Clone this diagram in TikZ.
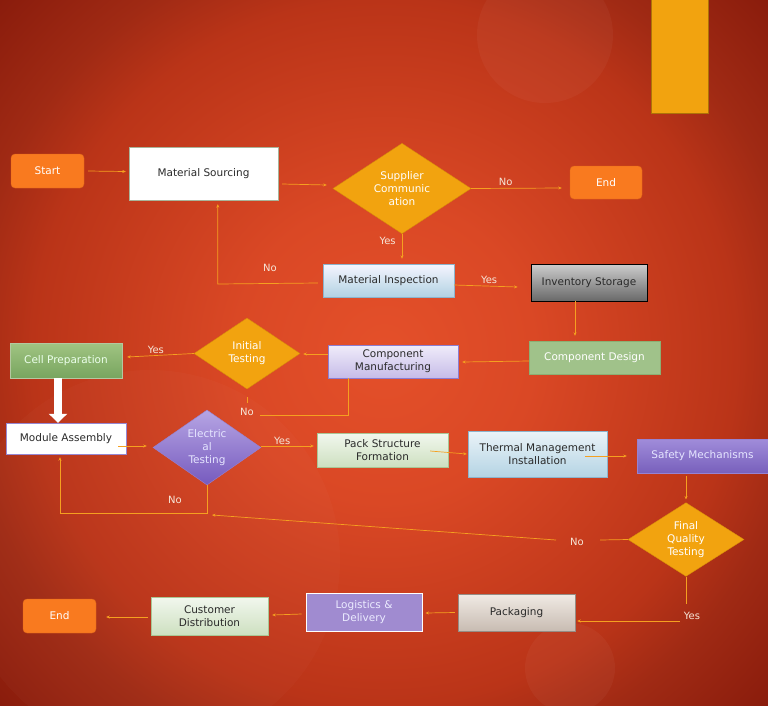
\documentclass[tikz,border=0pt]{standalone}
\usepackage{fontspec}
\setmainfont{DejaVu Sans}
\usetikzlibrary{shapes.geometric,arrows.meta,calc}
\definecolor{bg0}{HTML}{E4502A}
\definecolor{bg1}{HTML}{DA4825}
\definecolor{bg2}{HTML}{BA3418}
\definecolor{bg3}{HTML}{A02A14}
\definecolor{bg4}{HTML}{8A1C0C}
\pgfdeclareradialshading{bgshade}{\pgfpoint{0bp}{0bp}}{color(0bp)=(bg0); color(7.2bp)=(bg1); color(16.9bp)=(bg2); color(20.2bp)=(bg3); color(25bp)=(bg4); color(50bp)=(bg4)}
\definecolor{orng}{HTML}{F97A1F}
\definecolor{orngb}{HTML}{E0681A}
\definecolor{gold}{HTML}{F2A30F}
\definecolor{goldb}{HTML}{D88E0A}
\definecolor{lnk}{HTML}{F5A020}
\definecolor{dtxt}{HTML}{2A2A2A}
\definecolor{lbl}{HTML}{F6E6D8}
\definecolor{msb}{HTML}{A8B49A}
\tikzset{
  every node/.style={font=\fontsize{10.5}{13}\selectfont, align=center, inner sep=1pt},
  term/.style={rectangle, rounded corners=4pt, fill=orng, draw=orngb, text=white, minimum width=73pt, minimum height=34pt},
  dec/.style={diamond, fill=gold, draw=goldb, text=white, inner sep=0pt},
  proc/.style={rectangle, minimum height=33pt, text=dtxt},
  link/.style={draw=lnk, line width=0.7pt, -{Stealth[length=3.5pt,width=3pt]}},
  plain/.style={draw=lnk, line width=0.7pt},
  yn/.style={text=lbl, font=\fontsize{10}{12}\selectfont}
}
\begin{document}
\begin{tikzpicture}[x=1pt,y=-1pt]
\useasboundingbox (0,0) rectangle (768,705);
\begin{scope}
\clip (0,0) rectangle (768,705);
\shade[shading=bgshade] (-137,-169) rectangle (905,873);
\fill[white, opacity=0.035] (545,35) circle (68);
\fill[white, opacity=0.02] (150,560) circle (190);
\fill[white, opacity=0.035] (570,668) circle (45);
\end{scope}
\fill[gold, draw=goldb!80!black] (651,-2) rectangle (708,113);

% nodes
\node[term] (start) at (47.5,171) {Start};
\node[proc, fill=white, draw=msb, minimum width=149pt, minimum height=53pt] (ms) at (203.5,173.5) {Material Sourcing};
\node[dec, minimum width=138pt, minimum height=87pt] (sc) at (402,188.5) {Supplier\\Communic\\ation};
\node[term, minimum width=72pt, minimum height=33pt] (end1) at (606,182.5) {End};
\node[proc, top color=blue!4!white, bottom color={rgb,255:red,178;green,210;blue,226}, draw={rgb,255:red,140;green,180;blue,205}, minimum width=131pt] (mi) at (388.5,280.5) {Material Inspection};
\node[proc, top color={rgb,255:red,205;green,205;blue,205}, bottom color={rgb,255:red,105;green,105;blue,105}, draw=black, line width=0.8pt, minimum width=116pt, minimum height=37pt] (is) at (589,282.5) {Inventory Storage};
\node[proc, fill={rgb,255:red,160;green,194;blue,138}, draw={rgb,255:red,140;green,175;blue,115}, text=white, minimum width=131pt] (cd) at (594.5,357.5) {Component Design};
\node[proc, top color={rgb,255:red,240;green,236;blue,250}, bottom color={rgb,255:red,198;green,188;blue,232}, draw={rgb,255:red,140;green,125;blue,210}, minimum width=130pt] (cm) at (393,361.5) {Component\\Manufacturing};
\node[dec, minimum width=106pt, minimum height=71pt] (it) at (247,353.5) {Initial\\Testing};
\node[proc, top color={rgb,255:red,160;green,196;blue,130}, bottom color={rgb,255:red,120;green,165;blue,95}, draw={rgb,255:red,180;green,200;blue,160}, text=white!92!green, minimum width=112pt, minimum height=35pt] (cp) at (66,360.5) {Cell Preparation};
\node[proc, fill=white, draw={rgb,255:red,150;green,135;blue,210}, minimum width=120pt, minimum height=31pt] (ma) at (66,438.5) {Module Assembly};
\node[diamond, inner sep=0pt, top color={rgb,255:red,182;green,165;blue,228}, bottom color={rgb,255:red,118;green,90;blue,190}, draw={rgb,255:red,150;green,130;blue,210}, text=white!90!blue, minimum width=108pt, minimum height=73pt] (et) at (207,447.5) {Electric\\al\\Testing};
\node[proc, top color={rgb,255:red,242;green,247;blue,238}, bottom color={rgb,255:red,205;green,224;blue,192}, draw={rgb,255:red,170;green,198;blue,148}, minimum width=131pt, minimum height=34pt] (ps) at (382.5,450) {Pack Structure\\Formation};
\node[proc, top color={rgb,255:red,235;green,243;blue,248}, bottom color={rgb,255:red,180;green,212;blue,228}, draw={rgb,255:red,140;green,180;blue,205}, minimum width=139pt, minimum height=46pt] (tm) at (537.5,454) {Thermal Management\\Installation};
\node[proc, top color={rgb,255:red,160;green,140;blue,218}, bottom color={rgb,255:red,120;green,96;blue,188}, draw={rgb,255:red,150;green,130;blue,210}, text=white!90!blue, minimum width=131pt, minimum height=34pt] (sm) at (702.5,456) {Safety Mechanisms};
\node[dec, minimum width=116pt, minimum height=73pt] (fq) at (686,539.5) {Final\\Quality\\Testing};
\node[proc, top color={rgb,255:red,240;green,234;blue,228}, bottom color={rgb,255:red,200;green,188;blue,178}, draw={rgb,255:red,150;green,140;blue,132}, minimum width=117pt, minimum height=37pt] (pk) at (516.5,612.5) {Packaging};
\node[proc, fill={rgb,255:red,160;green,139;blue,208}, draw=white, line width=0.9pt, text=white!92!blue, minimum width=116pt, minimum height=38pt] (ld) at (364,612) {Logistics \&\\Delivery};
\node[proc, top color={rgb,255:red,242;green,247;blue,238}, bottom color={rgb,255:red,205;green,224;blue,192}, draw={rgb,255:red,170;green,198;blue,148}, minimum width=117pt, minimum height=38pt] (cdist) at (209.5,616) {Customer\\Distribution};
\node[term] (end2) at (59.5,616) {End};

% connectors
\draw[link] ($(start.east)+(4,0)$) -- ($(ms.west)+(-3,-2)$);
\draw[link] ($(ms.east)+(4,10.5)$) -- ($(sc.west)+(-6,-3.5)$);
\draw[link] (sc.east) -- ($(end1.west)+(-8,5.5)$) node[yn, pos=0.38, above=1pt] {No};
\draw[link] (sc.south) -- ($(mi.north)+(13.5,-5)$) node[yn, pos=0.3, left=5pt] {Yes};
\draw[link] ($(mi.west)+(-5,2.5)$) -- ++(-100,1) coordinate (c1) -- ($(c1 |- ms.south)+(0,4)$);
\node[yn] (no1) at (270,268) {No};
\draw[link] ($(mi.east)+(0,4.5)$) -- ($(is.west)+(-13,4.5)$) node[yn, pos=0.55, above=1pt] {Yes};
\draw[link] ($(is.south)+(-14,0)$) -- ($(cd.north)+(-19.5,-5)$);
\draw[link] ($(cd.west)+(0,3.5)$) -- ($(cm.east)+(4,0.5)$);
\draw[link] ($(cm.west)+(0,-7.5)$) -- ($(it.east)+(3,0.5)$);
\draw[link] (it.west) -- ($(cp.east)+(5,-3.5)$) node[yn, pos=0.57, above=1pt] {Yes};
\draw[plain] ($(it.south)+(0,8)$) -- ($(it.south)+(0,14)$);
\node[yn] (no2) at (247,412) {No};
\draw[plain] (260,415) -- (348,415) -- (cm.south -| 348,0);
\draw[white, line width=8pt, -{Triangle[length=9pt,width=18pt]}] ($(cp.south)+(-8,0)$) -- ($(ma.north)+(-8,0)$);
\draw[link] ($(ma.east)+(-8,7.5)$) -- ($(et.west)+(-6,-1.5)$);
\draw[link] ($(et.east)+(0,-1.5)$) -- ($(ps.west)+(-3,-4)$) node[yn, pos=0.4, above=0pt] {Yes};
\draw[link] (et.south) -- (207,513) -- (60,513) -- ($(ma.south)+(-6,3)$);
\node[yn] (no3) at (175,500) {No};
\draw[link] ($(ps.east)+(-18,1)$) -- ($(tm.west)+(-1,0)$);
\draw[link] ($(tm.east)+(-22,2)$) -- ($(sm.west)+(-10,0)$);
\draw[link] ($(sm.south)+(-16.5,3)$) -- ($(fq.north)+(0,-3)$);
\draw[plain] (fq.west) -- (600,540);
\node[yn] (no4) at (577,542) {No};
\coordinate (back) at (212,515);
\draw[link] (556,540) -- (back);
\draw[plain] (fq.south) -- (686,604);
\node[yn] (yes5) at (692,616) {Yes};
\draw[link] (680,621) -- ($(pk.east)+(2,8.5)$);
\draw[link] ($(pk.west)+(-3,0)$) -- ($(ld.east)+(3,1)$);
\draw[link] ($(ld.west)+(-4,2)$) -- ($(cdist.east)+(4,-1)$);
\draw[link] ($(cdist.west)+(-3,1)$) -- ($(end2.east)+(10,1)$);
\end{tikzpicture}
\end{document}
